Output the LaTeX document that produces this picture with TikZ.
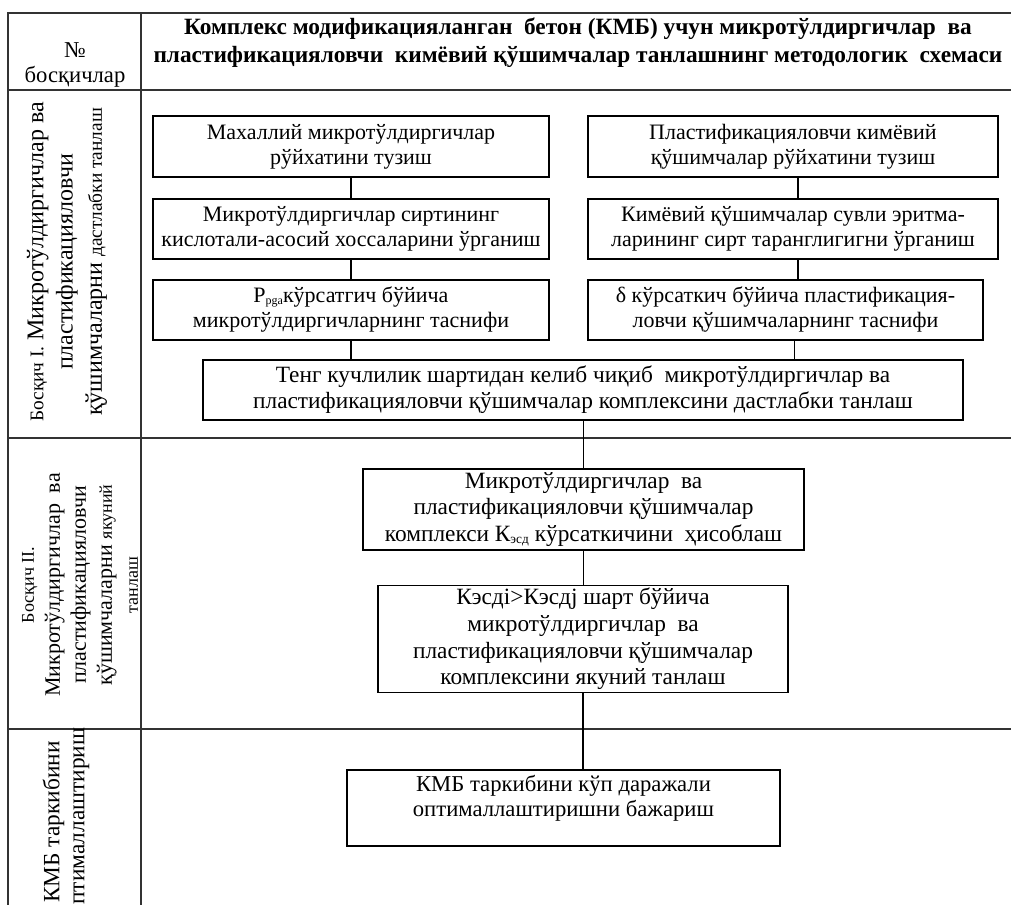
\documentclass[tikz,border=0pt]{standalone}
\usepackage{fontspec}
\setmainfont{Liberation Serif}

\begin{document}
\begin{tikzpicture}[x=0.75pt, y=-0.75pt,
    grid line/.style={line width=1pt, draw=black!80},
    stepbox/.style={draw, line width=0.9pt, align=center, inner sep=2pt,
      font=\fontsize{16.5}{18.75}\selectfont},
    link/.style={line width=0.9pt},
    stagelabel/.style={rotate=90, align=center}]
  \useasboundingbox (0,0) rectangle (1011,905);

  % table
  \draw[grid line] (8,905) -- (8,13) -- (1011,13);
  \draw[grid line] (141,13) -- (141,905);
  \foreach \y in {90,438,729}
    \draw[grid line] (8,\y) -- (1011,\y);

  % header
  \node[align=center, font=\fontsize{17}{19}\selectfont] (num) at (75,65)
    {№\\босқичлар};
  \node[align=center, font=\fontsize{17.5}{21}\selectfont\bfseries] (title) at (578,43)
    {Комплекс модификацияланган\ \ бетон (КМБ) учун микротўлдиргичлар\ \ ва\\
     пластификацияловчи\ \ кимёвий қўшимчалар танлашнинг методологик\ \ схемаси};

  % stages
  \node[stagelabel, font=\fontsize{18}{22}\selectfont] (stageI) at (67,262)
    {{\fontsize{14.5}{22}\selectfont Босқич I.} Микротўлдиргичлар ва\\
     пластификацияловчи\\
     қўшимчаларни {\fontsize{14.5}{22}\selectfont дастлабки танлаш}};
  \node[stagelabel, font=\fontsize{16.5}{19.5}\selectfont] (stageII) at (80,585)
    {{\fontsize{13.5}{19.5}\selectfont Босқич II.}\\
     Микротўлдиргичлар\ \ ва\\
     пластификацияловчи\\
     қўшимчаларни {\fontsize{13.5}{19.5}\selectfont якуний}\\
     {\fontsize{13.5}{19.5}\selectfont танлаш}};
  \node[stagelabel, font=\fontsize{17.5}{18.75}\selectfont] (stageIII) at (66,822)
    {КМБ таркибини\\оптималлаштириш};

  % step I
  \node[stepbox, minimum width=297pt, minimum height=45.75pt] (L1) at (351,146.5)
    {Махаллий микротўлдиргичлар\\рўйхатини тузиш};
  \node[stepbox, minimum width=297pt, minimum height=45pt] (L2) at (351,229)
    {Микротўлдиргичлар сиртининг\\кислотали-асосий хоссаларини ўрганиш};
  \node[stepbox, minimum width=297pt, minimum height=45pt] (L3) at (351,310)
    {Р{\fontsize{9}{9}\selectfont\raisebox{-0.3ex}{рga}}кўрсатгич бўйича\\микротўлдиргичларнинг таснифи};
  \node[stepbox, minimum width=307.5pt, minimum height=45.75pt] (R1) at (793,146.5)
    {Пластификацияловчи кимёвий\\қўшимчалар рўйхатини тузиш};
  \node[stepbox, minimum width=307.5pt, minimum height=45pt] (R2) at (793,229)
    {Кимёвий қўшимчалар сувли эритма-\\ларининг сирт таранглигигни ўрганиш};
  \node[stepbox, minimum width=296.25pt, minimum height=45pt] (R3) at (785.5,310)
    {δ кўрсаткич бўйича пластификация-\\ловчи қўшимчаларнинг таснифи};
  \node[stepbox, minimum width=570pt, minimum height=45pt,
    font=\fontsize{17.5}{19.5}\selectfont] (B) at (583,390)
    {Тенг кучлилик шартидан келиб чиқиб\ \ микротўлдиргичлар ва\\
     пластификацияловчи қўшимчалар комплексини дастлабки танлаш};

  % step II
  \node[stepbox, minimum width=330.75pt, minimum height=60.75pt,
    font=\fontsize{17.5}{20}\selectfont] (M1) at (583.5,509.5)
    {Микротўлдиргичлар\ \ ва\\пластификацияловчи қўшимчалар\\
     комплекси К{\fontsize{10}{10}\selectfont\raisebox{-0.3ex}{эсд}} кўрсаткичини\ \ ҳисоблаш};
  \node[stepbox, minimum width=307.5pt, minimum height=79.5pt,
    font=\fontsize{17.5}{20}\selectfont] (M2) at (583,639)
    {Кэсдi>Кэсдj шарт бўйича\\микротўлдиргичлар\ \ ва\\
     пластификацияловчи қўшимчалар\\комплексини якуний танлаш};

  % step III
  \node[stepbox, minimum width=324.75pt, minimum height=57pt,
    font=\fontsize{17}{18.75}\selectfont] (M3) at (563.5,808)
    {КМБ таркибини кўп даражали\\оптималлаштиришни бажариш\\\mbox{}};

  % links
  \draw[link] (L1) -- (L2);
  \draw[link] (L2) -- (L3);
  \draw[link] (L3.south) -- (L3.south |- B.north);
  \draw[link] ([xshift=3.75pt]R1.south) -- ([xshift=3.75pt]R1.south |- R2.north);
  \draw[link] ([xshift=3.75pt]R2.south) -- ([xshift=3.75pt]R2.south |- R3.north);
  \draw[link] ([xshift=7pt]R3.south) -- ([xshift=7pt]R3.south |- B.north);
  \draw[link] (M1.north |- B.south) -- (M1.north);
  \draw[link] (M1.south) -- (M1.south |- M2.north);
  \draw[link] (M2.south) -- (M2.south |- M3.north);
\end{tikzpicture}
\end{document}
